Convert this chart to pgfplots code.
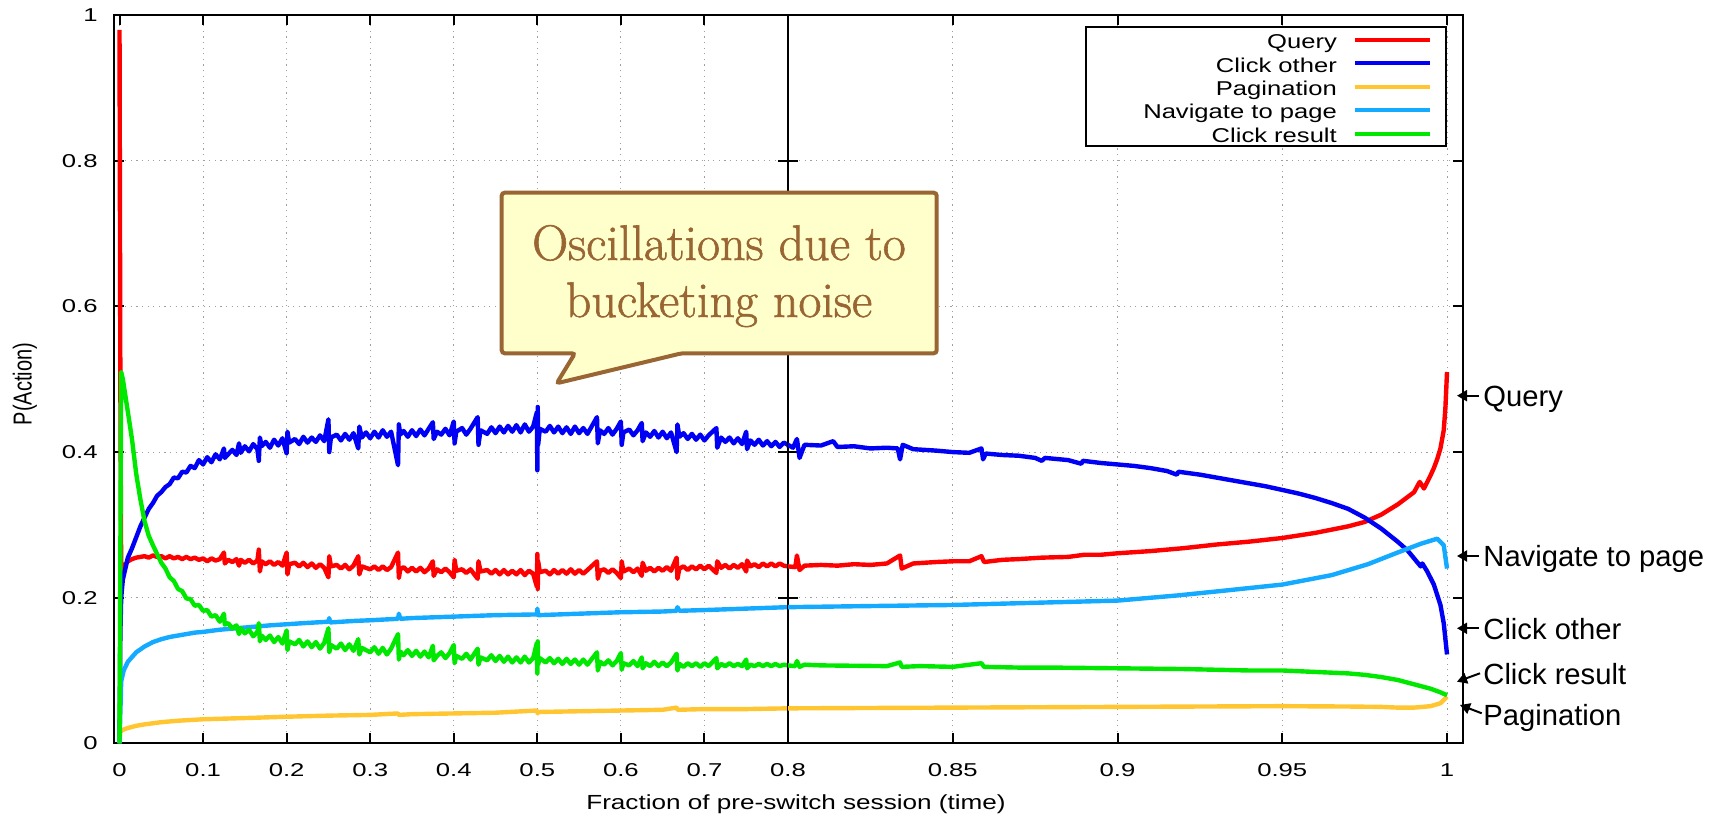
\documentclass[border=0pt]{standalone}
\usepackage{fontspec}
\usepackage{graphicx}
\usepackage{pgfplots}
\pgfplotsset{compat=1.18}
\usepackage{pgfplotstable}
\usetikzlibrary{arrows.meta}
\newfontfamily\gpt{Liberation Sans}[FakeStretch=1.38]
\newfontfamily\gp{Liberation Sans}[FakeStretch=1.28]
\newfontfamily\ann{Liberation Sans}
\newfontfamily\cf{Latin Modern Roman}[FakeBold=1.2]
\definecolor{cQuery}{RGB}{255,0,0}
\definecolor{cOther}{RGB}{0,0,245}
\definecolor{cPag}{RGB}{255,198,50}
\definecolor{cNav}{RGB}{20,170,255}
\definecolor{cRes}{RGB}{0,232,0}
\definecolor{cBorder}{RGB}{153,102,51}
\definecolor{cFill}{RGB}{255,255,204}
\newcommand\lent[1]{\makebox[118.5pt][r]{\rule[-3pt]{0pt}{13.2pt}#1}}

% Query
\pgfplotstableread[row sep=\\]{
x y\\
0 0.98\\ 0.001 0.5\\ 0.002 0.228\\ 0.004 0.238\\ 0.007 0.246\\ 0.01 0.25\\ 0.015 0.253\\ 0.02 0.255\\ 0.025 0.256\\ 0.03 0.257\\
0.035 0.255\\ 0.04 0.258\\ 0.045 0.256\\ 0.05 0.257\\ 0.055 0.254\\ 0.06 0.257\\ 0.065 0.254\\ 0.07 0.256\\ 0.075 0.253\\ 0.08 0.256\\
0.085 0.253\\ 0.09 0.255\\ 0.095 0.252\\ 0.1 0.254\\ 0.105 0.25\\ 0.11 0.254\\ 0.115 0.251\\ 0.12 0.253\\ 0.125 0.262\\ 0.126 0.247\\
0.13 0.252\\ 0.135 0.249\\ 0.14 0.253\\ 0.143 0.244\\ 0.145 0.252\\ 0.15 0.248\\ 0.155 0.252\\ 0.16 0.247\\ 0.165 0.251\\ 0.1667 0.266\\
0.168 0.236\\ 0.17 0.25\\ 0.175 0.246\\ 0.18 0.25\\ 0.185 0.245\\ 0.19 0.249\\ 0.195 0.244\\ 0.2 0.262\\ 0.201 0.232\\ 0.203 0.246\\
0.21 0.248\\ 0.215 0.243\\ 0.22 0.248\\ 0.225 0.242\\ 0.23 0.247\\ 0.235 0.241\\ 0.24 0.246\\ 0.245 0.241\\ 0.25 0.228\\ 0.251 0.257\\
0.253 0.243\\ 0.26 0.245\\ 0.265 0.24\\ 0.27 0.245\\ 0.275 0.239\\ 0.28 0.244\\ 0.2857 0.257\\ 0.287 0.232\\ 0.29 0.243\\ 0.3 0.239\\
0.305 0.243\\ 0.31 0.238\\ 0.315 0.243\\ 0.32 0.238\\ 0.325 0.242\\ 0.3333 0.262\\ 0.3343 0.227\\ 0.336 0.239\\ 0.34 0.242\\ 0.345 0.236\\
0.35 0.241\\ 0.355 0.236\\ 0.36 0.241\\ 0.365 0.235\\ 0.37 0.24\\ 0.375 0.25\\ 0.376 0.23\\ 0.38 0.239\\ 0.385 0.235\\ 0.39 0.24\\
0.395 0.235\\ 0.4 0.228\\ 0.401 0.252\\ 0.403 0.237\\ 0.41 0.239\\ 0.415 0.234\\ 0.42 0.239\\ 0.4286 0.226\\ 0.4296 0.25\\ 0.432 0.236\\
0.44 0.238\\ 0.445 0.233\\ 0.45 0.238\\ 0.455 0.232\\ 0.46 0.238\\ 0.465 0.232\\ 0.47 0.237\\ 0.475 0.232\\ 0.48 0.238\\ 0.485 0.231\\
0.49 0.237\\ 0.495 0.233\\ 0.4995 0.215\\ 0.5 0.26\\ 0.5005 0.212\\ 0.501 0.25\\ 0.503 0.235\\ 0.51 0.237\\ 0.515 0.232\\ 0.52 0.238\\
0.525 0.233\\ 0.53 0.238\\ 0.535 0.233\\ 0.54 0.239\\ 0.545 0.233\\ 0.55 0.238\\ 0.555 0.233\\ 0.56 0.238\\ 0.5714 0.25\\ 0.5724 0.226\\
0.575 0.237\\ 0.58 0.239\\ 0.585 0.234\\ 0.59 0.239\\ 0.595 0.234\\ 0.6 0.227\\ 0.601 0.25\\ 0.603 0.236\\ 0.61 0.24\\ 0.615 0.235\\
0.62 0.24\\ 0.625 0.23\\ 0.626 0.248\\ 0.63 0.237\\ 0.635 0.241\\ 0.64 0.236\\ 0.645 0.241\\ 0.65 0.237\\ 0.655 0.242\\ 0.66 0.237\\
0.6667 0.255\\ 0.6677 0.226\\ 0.67 0.24\\ 0.675 0.243\\ 0.68 0.238\\ 0.685 0.243\\ 0.69 0.239\\ 0.695 0.244\\ 0.7 0.239\\ 0.705 0.244\\
0.7143 0.234\\ 0.7153 0.25\\ 0.72 0.241\\ 0.725 0.245\\ 0.73 0.24\\ 0.735 0.245\\ 0.74 0.241\\ 0.745 0.246\\ 0.75 0.236\\ 0.751 0.251\\
0.755 0.243\\ 0.76 0.246\\ 0.765 0.242\\ 0.77 0.247\\ 0.775 0.243\\ 0.78 0.247\\ 0.785 0.243\\ 0.79 0.247\\ 0.795 0.244\\ 0.8 0.243\\
0.8022 0.242\\ 0.8027 0.258\\ 0.8035 0.238\\ 0.805 0.244\\ 0.81 0.245\\ 0.815 0.244\\ 0.82 0.246\\ 0.825 0.245\\ 0.83 0.247\\ 0.834 0.258\\
0.8345 0.24\\ 0.838 0.247\\ 0.845 0.249\\ 0.85 0.25\\ 0.855 0.25\\ 0.8587 0.257\\ 0.8595 0.249\\ 0.865 0.252\\ 0.87 0.253\\ 0.877 0.255\\
0.885 0.256\\ 0.89 0.259\\ 0.895 0.259\\ 0.9 0.261\\ 0.91 0.264\\ 0.92 0.268\\ 0.93 0.273\\ 0.94 0.277\\ 0.95 0.282\\ 0.96 0.289\\
0.97 0.298\\ 0.975 0.304\\ 0.98 0.314\\ 0.985 0.328\\ 0.99 0.345\\ 0.9917 0.359\\ 0.993 0.35\\ 0.995 0.368\\ 0.996 0.378\\ 0.997 0.39\\
0.998 0.405\\ 0.999 0.43\\ 0.9995 0.46\\ 1.0 0.51\\
}\tquery

% Click other
\pgfplotstableread[row sep=\\]{
x y\\
0 0\\ 0.001 0.15\\ 0.002 0.2\\ 0.004 0.225\\ 0.007 0.24\\ 0.01 0.255\\ 0.015 0.268\\ 0.02 0.283\\ 0.025 0.298\\ 0.03 0.31\\
0.035 0.322\\ 0.04 0.33\\ 0.045 0.34\\ 0.05 0.345\\ 0.055 0.352\\ 0.06 0.356\\ 0.065 0.365\\ 0.07 0.364\\ 0.075 0.373\\ 0.08 0.372\\
0.085 0.381\\ 0.09 0.378\\ 0.095 0.389\\ 0.1 0.383\\ 0.105 0.393\\ 0.11 0.386\\ 0.115 0.397\\ 0.12 0.39\\ 0.125 0.405\\ 0.126 0.392\\
0.13 0.397\\ 0.135 0.403\\ 0.14 0.396\\ 0.143 0.412\\ 0.145 0.399\\ 0.15 0.408\\ 0.155 0.401\\ 0.16 0.411\\ 0.165 0.404\\ 0.1667 0.388\\
0.168 0.42\\ 0.17 0.408\\ 0.175 0.414\\ 0.18 0.406\\ 0.185 0.417\\ 0.19 0.409\\ 0.195 0.419\\ 0.2 0.398\\ 0.201 0.428\\ 0.203 0.413\\
0.21 0.418\\ 0.215 0.411\\ 0.22 0.421\\ 0.225 0.413\\ 0.23 0.42\\ 0.235 0.414\\ 0.24 0.423\\ 0.245 0.415\\ 0.25 0.445\\ 0.251 0.4\\
0.253 0.42\\ 0.26 0.424\\ 0.265 0.416\\ 0.27 0.425\\ 0.275 0.417\\ 0.28 0.426\\ 0.2857 0.405\\ 0.287 0.435\\ 0.29 0.42\\ 0.295 0.427\\
0.3 0.419\\ 0.305 0.428\\ 0.31 0.42\\ 0.315 0.43\\ 0.32 0.421\\ 0.325 0.428\\ 0.3333 0.382\\ 0.3343 0.438\\ 0.336 0.424\\ 0.34 0.429\\
0.345 0.421\\ 0.35 0.43\\ 0.355 0.422\\ 0.36 0.431\\ 0.365 0.423\\ 0.37 0.432\\ 0.375 0.441\\ 0.376 0.418\\ 0.38 0.428\\ 0.385 0.424\\
0.39 0.432\\ 0.395 0.423\\ 0.4 0.442\\ 0.401 0.412\\ 0.403 0.428\\ 0.41 0.433\\ 0.415 0.424\\ 0.42 0.432\\ 0.4286 0.448\\ 0.4296 0.41\\
0.432 0.43\\ 0.44 0.425\\ 0.445 0.434\\ 0.45 0.426\\ 0.455 0.435\\ 0.46 0.427\\ 0.465 0.436\\ 0.47 0.428\\ 0.475 0.437\\ 0.48 0.427\\
0.485 0.438\\ 0.49 0.428\\ 0.495 0.435\\ 0.4995 0.455\\ 0.5 0.375\\ 0.5005 0.462\\ 0.501 0.41\\ 0.503 0.432\\ 0.51 0.428\\ 0.515 0.436\\
0.52 0.427\\ 0.525 0.435\\ 0.53 0.426\\ 0.535 0.434\\ 0.54 0.425\\ 0.545 0.435\\ 0.55 0.426\\ 0.555 0.433\\ 0.56 0.425\\ 0.5714 0.448\\
0.5724 0.412\\ 0.575 0.43\\ 0.58 0.425\\ 0.585 0.433\\ 0.59 0.424\\ 0.595 0.432\\ 0.6 0.442\\ 0.601 0.41\\ 0.603 0.427\\ 0.61 0.431\\
0.615 0.423\\ 0.62 0.43\\ 0.625 0.44\\ 0.626 0.415\\ 0.63 0.427\\ 0.635 0.421\\ 0.64 0.429\\ 0.645 0.42\\ 0.65 0.428\\ 0.655 0.419\\
0.66 0.427\\ 0.6667 0.4\\ 0.6677 0.438\\ 0.67 0.421\\ 0.675 0.426\\ 0.68 0.418\\ 0.685 0.425\\ 0.69 0.417\\ 0.695 0.424\\ 0.7 0.416\\
0.705 0.423\\ 0.7143 0.433\\ 0.7153 0.406\\ 0.72 0.42\\ 0.725 0.414\\ 0.73 0.42\\ 0.735 0.412\\ 0.74 0.419\\ 0.745 0.411\\ 0.75 0.428\\
0.751 0.404\\ 0.755 0.416\\ 0.76 0.41\\ 0.765 0.417\\ 0.77 0.409\\ 0.775 0.415\\ 0.78 0.408\\ 0.785 0.414\\ 0.79 0.407\\ 0.795 0.413\\
0.8 0.41\\ 0.8015 0.406\\ 0.8027 0.418\\ 0.8035 0.392\\ 0.805 0.41\\ 0.81 0.409\\ 0.8137 0.415\\ 0.815 0.407\\ 0.82 0.408\\ 0.825 0.405\\
0.83 0.406\\ 0.8333 0.405\\ 0.834 0.39\\ 0.8348 0.41\\ 0.838 0.404\\ 0.845 0.402\\ 0.85 0.4\\ 0.855 0.399\\ 0.8587 0.405\\ 0.8592 0.39\\
0.86 0.398\\ 0.865 0.396\\ 0.87 0.395\\ 0.875 0.392\\ 0.877 0.388\\ 0.878 0.392\\ 0.885 0.389\\ 0.889 0.384\\ 0.8895 0.388\\ 0.895 0.385\\
0.9 0.383\\ 0.905 0.381\\ 0.91 0.378\\ 0.915 0.374\\ 0.918 0.369\\ 0.9185 0.373\\ 0.925 0.369\\ 0.93 0.365\\ 0.935 0.361\\ 0.94 0.357\\
0.945 0.353\\ 0.95 0.348\\ 0.955 0.343\\ 0.96 0.337\\ 0.965 0.33\\ 0.97 0.322\\ 0.975 0.31\\ 0.98 0.295\\ 0.985 0.277\\ 0.988 0.265\\
0.99 0.254\\ 0.992 0.243\\ 0.9925 0.247\\ 0.994 0.236\\ 0.996 0.218\\ 0.998 0.19\\ 0.999 0.165\\ 1.0 0.122\\
}\tother

% Pagination
\pgfplotstableread[row sep=\\]{
x y\\
0 0\\ 0.001 0.015\\ 0.003 0.018\\ 0.01 0.021\\ 0.02 0.024\\ 0.03 0.026\\ 0.05 0.029\\ 0.07 0.031\\ 0.1 0.033\\ 0.13 0.034\\
0.16 0.035\\ 0.2 0.0365\\ 0.25 0.038\\ 0.3 0.039\\ 0.333 0.041\\ 0.3343 0.039\\ 0.35 0.04\\ 0.4 0.041\\ 0.45 0.042\\ 0.4995 0.045\\
0.5005 0.041\\ 0.501 0.043\\ 0.55 0.044\\ 0.6 0.045\\ 0.65 0.046\\ 0.6667 0.049\\ 0.668 0.046\\ 0.7 0.047\\ 0.75 0.047\\ 0.8 0.048\\
0.85 0.049\\ 0.9 0.05\\ 0.95 0.051\\ 0.97 0.0505\\ 0.98 0.05\\ 0.985 0.049\\ 0.99 0.049\\ 0.995 0.051\\ 0.998 0.055\\ 1.0 0.064\\
}\tpag

% Navigate to page
\pgfplotstableread[row sep=\\]{
x y\\
0 0\\ 0.002 0.085\\ 0.005 0.1\\ 0.01 0.112\\ 0.02 0.125\\ 0.03 0.133\\ 0.04 0.139\\ 0.05 0.143\\ 0.06 0.146\\ 0.07 0.148\\
0.08 0.15\\ 0.09 0.152\\ 0.1 0.153\\ 0.12 0.156\\ 0.14 0.158\\ 0.16 0.16\\ 0.18 0.162\\ 0.2 0.1635\\ 0.22 0.165\\ 0.25 0.167\\
0.251 0.172\\ 0.252 0.166\\ 0.28 0.168\\ 0.3 0.169\\ 0.3333 0.171\\ 0.3343 0.178\\ 0.336 0.171\\ 0.35 0.172\\ 0.4 0.174\\ 0.45 0.176\\
0.4995 0.177\\ 0.5 0.185\\ 0.501 0.176\\ 0.55 0.178\\ 0.6 0.18\\ 0.65 0.181\\ 0.6667 0.182\\ 0.6677 0.187\\ 0.67 0.182\\ 0.7 0.183\\
0.75 0.185\\ 0.8 0.187\\ 0.85 0.19\\ 0.9 0.196\\ 0.918 0.203\\ 0.931 0.209\\ 0.95 0.218\\ 0.965 0.231\\ 0.976 0.246\\ 0.985 0.262\\
0.992 0.274\\ 0.997 0.281\\ 0.999 0.272\\ 1.0 0.24\\
}\tnav

% Click result
\pgfplotstableread[row sep=\\]{
x y\\
0 0\\ 0.002 0.51\\ 0.004 0.5\\ 0.008 0.47\\ 0.012 0.44\\ 0.015 0.417\\ 0.02 0.37\\ 0.025 0.335\\ 0.03 0.305\\ 0.035 0.285\\
0.04 0.272\\ 0.045 0.26\\ 0.05 0.248\\ 0.055 0.24\\ 0.06 0.228\\ 0.065 0.223\\ 0.07 0.212\\ 0.075 0.209\\ 0.08 0.199\\ 0.085 0.198\\
0.09 0.189\\ 0.095 0.19\\ 0.1 0.182\\ 0.105 0.183\\ 0.11 0.174\\ 0.115 0.176\\ 0.12 0.167\\ 0.125 0.178\\ 0.126 0.163\\ 0.13 0.165\\
0.135 0.158\\ 0.14 0.162\\ 0.143 0.15\\ 0.145 0.158\\ 0.15 0.151\\ 0.155 0.156\\ 0.16 0.147\\ 0.165 0.153\\ 0.1667 0.165\\ 0.168 0.14\\
0.17 0.148\\ 0.175 0.142\\ 0.18 0.148\\ 0.185 0.139\\ 0.19 0.146\\ 0.195 0.137\\ 0.2 0.155\\ 0.201 0.128\\ 0.203 0.14\\ 0.21 0.136\\
0.215 0.142\\ 0.22 0.133\\ 0.225 0.14\\ 0.23 0.132\\ 0.235 0.139\\ 0.24 0.13\\ 0.245 0.138\\ 0.25 0.158\\ 0.251 0.125\\ 0.253 0.135\\
0.26 0.13\\ 0.265 0.137\\ 0.27 0.128\\ 0.275 0.136\\ 0.28 0.127\\ 0.2857 0.143\\ 0.287 0.122\\ 0.29 0.131\\ 0.3 0.125\\ 0.305 0.132\\
0.31 0.123\\ 0.315 0.131\\ 0.32 0.122\\ 0.325 0.13\\ 0.3333 0.15\\ 0.3343 0.115\\ 0.336 0.126\\ 0.34 0.121\\ 0.345 0.128\\ 0.35 0.12\\
0.355 0.127\\ 0.36 0.119\\ 0.365 0.126\\ 0.37 0.118\\ 0.375 0.134\\ 0.376 0.114\\ 0.38 0.12\\ 0.385 0.125\\ 0.39 0.117\\ 0.395 0.124\\
0.4 0.135\\ 0.401 0.11\\ 0.403 0.12\\ 0.41 0.116\\ 0.415 0.123\\ 0.42 0.115\\ 0.4286 0.13\\ 0.4296 0.108\\ 0.432 0.118\\ 0.44 0.114\\
0.445 0.121\\ 0.45 0.113\\ 0.455 0.12\\ 0.46 0.112\\ 0.465 0.119\\ 0.47 0.111\\ 0.475 0.118\\ 0.48 0.111\\ 0.485 0.119\\ 0.49 0.111\\
0.495 0.117\\ 0.4995 0.138\\ 0.5 0.096\\ 0.5005 0.14\\ 0.501 0.108\\ 0.503 0.117\\ 0.51 0.111\\ 0.515 0.117\\ 0.52 0.11\\ 0.525 0.116\\
0.53 0.109\\ 0.535 0.116\\ 0.54 0.109\\ 0.545 0.115\\ 0.55 0.108\\ 0.555 0.115\\ 0.56 0.108\\ 0.5714 0.125\\ 0.5724 0.1\\ 0.575 0.112\\
0.58 0.108\\ 0.585 0.114\\ 0.59 0.107\\ 0.595 0.113\\ 0.6 0.124\\ 0.601 0.101\\ 0.603 0.11\\ 0.61 0.107\\ 0.615 0.113\\ 0.62 0.106\\
0.625 0.118\\ 0.626 0.103\\ 0.63 0.11\\ 0.635 0.106\\ 0.64 0.112\\ 0.645 0.106\\ 0.65 0.111\\ 0.655 0.106\\ 0.66 0.111\\ 0.6667 0.123\\
0.6677 0.1\\ 0.67 0.109\\ 0.675 0.105\\ 0.68 0.11\\ 0.685 0.106\\ 0.69 0.11\\ 0.695 0.105\\ 0.7 0.11\\ 0.705 0.106\\ 0.7143 0.117\\
0.7153 0.103\\ 0.72 0.109\\ 0.725 0.106\\ 0.73 0.11\\ 0.735 0.106\\ 0.74 0.109\\ 0.745 0.106\\ 0.75 0.115\\ 0.751 0.103\\ 0.755 0.108\\
0.76 0.106\\ 0.765 0.109\\ 0.77 0.106\\ 0.775 0.109\\ 0.78 0.106\\ 0.785 0.109\\ 0.79 0.106\\ 0.795 0.108\\ 0.8 0.107\\ 0.8022 0.106\\
0.8027 0.113\\ 0.8035 0.105\\ 0.805 0.108\\ 0.81 0.107\\ 0.83 0.106\\ 0.834 0.111\\ 0.8345 0.105\\ 0.84 0.106\\ 0.85 0.105\\ 0.8587 0.11\\
0.8595 0.105\\ 0.87 0.104\\ 0.88 0.104\\ 0.9 0.103\\ 0.92 0.102\\ 0.94 0.1\\ 0.95 0.1\\ 0.96 0.098\\ 0.97 0.096\\ 0.975 0.094\\
0.98 0.091\\ 0.985 0.087\\ 0.99 0.081\\ 0.995 0.075\\ 0.998 0.07\\ 1.0 0.066\\
}\tres

\pgfplotsset{
  gpaxis/.style={
    scale only axis, height=364pt, ymin=0, ymax=1,
    ytick={0,0.2,0.4,0.6,0.8,1},
    grid=major,
    grid style={gray!75, line width=0.5pt, dash pattern=on 0.6pt off 2.2pt},
    axis line style={line width=1pt},
    major tick style={black, line width=1pt},
    major tick length=5pt,
    tick align=inside,
    tick pos=both,
    tick label style={font=\gpt\fontsize{9.3}{11}\selectfont},
    /pgf/number format/assume math mode=true,
    xticklabel style={inner sep=0pt, yshift=-10pt, anchor=north},
    yticklabel style={inner sep=0pt, xshift=-8pt, anchor=east},
    every axis plot/.append style={line width=2.2pt, line join=round, no markers},
  }
}

\begin{document}
\begin{tikzpicture}
\useasboundingbox (0,0) rectangle (859.5pt,408.5pt);
% left part 0 .. 0.8
\begin{axis}[gpaxis, at={(57pt,36.85pt)}, anchor=south west, width=337pt,
  xmin=-0.0066, xmax=0.8, xtick={0,0.1,0.2,0.3,0.4,0.5,0.6,0.7,0.8}]
  \addplot[cQuery] table {\tquery};
  \addplot[cOther] table {\tother};
  \addplot[cPag] table {\tpag};
  \addplot[cNav] table {\tnav};
  \addplot[cRes] table {\tres};
\end{axis}
% right part 0.8 .. 1
\begin{axis}[gpaxis, at={(394pt,36.85pt)}, anchor=south west, width=337.5pt,
  xmin=0.8, xmax=1.00486, xtick={0.85,0.9,0.95,1}, yticklabels={},
  legend cell align=right, legend plot pos=right,
  legend image code/.code={\draw[#1, line width=2pt] (0pt,0pt) -- (37.5pt,0pt);},
  legend style={at={(0.976,0.985)}, anchor=north east, draw=black, line width=1pt,
    fill=white, inner xsep=7pt, inner ysep=0.5pt, row sep=0pt,
    font=\gp\fontsize{10}{12}\selectfont, nodes={inner sep=0pt},
    /tikz/every odd column/.style={column sep=8pt}}]
  \addplot[cQuery] table {\tquery}; \addlegendentry{\lent{Query}}
  \addplot[cOther] table {\tother}; \addlegendentry{\lent{Click other}}
  \addplot[cPag] table {\tpag}; \addlegendentry{\lent{Pagination}}
  \addplot[cNav] table {\tnav}; \addlegendentry{\lent{Navigate to page}}
  \addplot[cRes] table {\tres}; \addlegendentry{\lent{Click result}}
\end{axis}
% annotations in pixel coordinates of the reference
\begin{scope}[x=0.5pt, y=-0.5pt, shift={(0pt,408.5pt)}]
  \node[font=\gp\fontsize{10.2}{12}\selectfont, anchor=base] at (796,810) {Fraction of pre-switch session (time)};
  \node[font=\ann\fontsize{10}{12}\selectfont, rotate=90, anchor=base] at (31.7,384.2) {\scalebox{1}[1.3]{P(Action)}};
  \begin{scope}[line width=1pt, -{Triangle[length=5pt,width=5.5pt]}]
    \draw (1479,395.7) -- (1457,395.7);
    \draw (1479,556) -- (1457,556);
    \draw (1479,628.3) -- (1457,628.3);
    \draw (1480,673.3) -- (1457,681.7);
    \draw (1481.7,713.3) -- (1460,705);
  \end{scope}
  \begin{scope}[font=\ann\fontsize{14.6}{17}\selectfont]
    \node[anchor=base west, inner sep=0pt] at (1483,406.7) {Query};
    \node[anchor=base west, inner sep=0pt] at (1483,567) {Navigate to page};
    \node[anchor=base west, inner sep=0pt] at (1483,639.3) {Click other};
    \node[anchor=base west, inner sep=0pt] at (1483,684.3) {Click result};
    \node[anchor=base west, inner sep=0pt] at (1483,726) {Pagination};
  \end{scope}
  \draw[cBorder, line width=2pt, fill=cFill, rounded corners=1.5pt]
    (501.7,192.7) -- (936.7,192.7) -- (936.7,353.3) -- (681.7,353.3) -- (556.7,383.3)
    -- (575,353.3) -- (501.7,353.3) -- cycle;
  \node[text=cBorder, font=\cf\fontsize{25}{28}\selectfont, anchor=base, inner sep=0pt] at (719,260) {Oscillations due to};
  \node[text=cBorder, font=\cf\fontsize{25}{28}\selectfont, anchor=base, inner sep=0pt] at (719,317) {bucketing noise};
\end{scope}
\end{tikzpicture}
\end{document}
